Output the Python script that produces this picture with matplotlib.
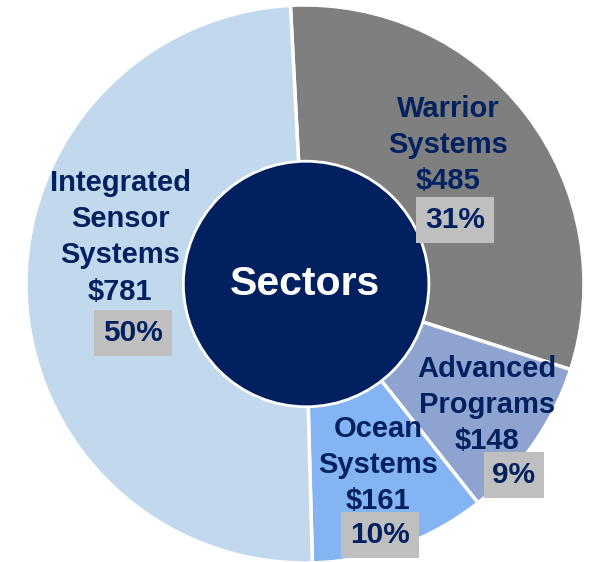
import matplotlib
matplotlib.use("Agg")
import matplotlib.pyplot as plt
from matplotlib.patches import Circle

# ---- data ----
sectors = ["Warrior\nSystems", "Advanced\nPrograms", "Ocean\nSystems", "Integrated\nSensor\nSystems"]
values = [485, 148, 161, 781]
colors = ["#7F7F7F", "#8FA3D1", "#84B4F3", "#C2D9ED"]
center_label = "Sectors"

# label placement (x, y in pie radius units) for name block and percent box
name_pos = [(0.513, 0.498), (0.652, -0.434), (0.262, -0.649), (-0.663, 0.167)]
pct_pos = [(0.538, 0.229), (0.749, -0.685), (0.269, -0.900), (-0.616, -0.176)]

navy = "#002060"
plt.rcParams['font.family'] = ['Liberation Sans', 'DejaVu Sans']

fig = plt.figure(figsize=(5.90, 5.62), dpi=100)
ax = fig.add_axes([0, 0, 1, 1])
ax.pie(values, colors=colors, startangle=93, counterclock=False, radius=1.0,
       wedgeprops=dict(edgecolor="white", linewidth=2.5))
ax.add_patch(Circle((0.004, 0.0), 0.44, facecolor=navy, edgecolor="white", linewidth=2, zorder=3))
ax.text(0.0, 0.0, center_label, ha="center", va="center", color="white",
        fontsize=29.5, fontweight="bold", zorder=4)

total = sum(values)
for name, v, (nx, ny), (px, py) in zip(sectors, values, name_pos, pct_pos):
    ax.text(nx, ny, f"{name}\n${v}", ha="center", va="center", color=navy,
            fontsize=21, fontweight="bold", linespacing=1.37, zorder=4)
    ax.text(px, py, f"{round(100 * v / total)}%", ha="center", va="center", color=navy,
            fontsize=21.5, fontweight="bold", zorder=4,
            bbox=dict(boxstyle="square,pad=0.3", facecolor="#BFBFBF", edgecolor="none"))

ax.set_xlim(-305 / 279, 285 / 279)
ax.set_ylim(-278 / 279, 284 / 279)
ax.set_aspect("equal")
ax.axis("off")
fig.savefig("out.png", dpi=100)
